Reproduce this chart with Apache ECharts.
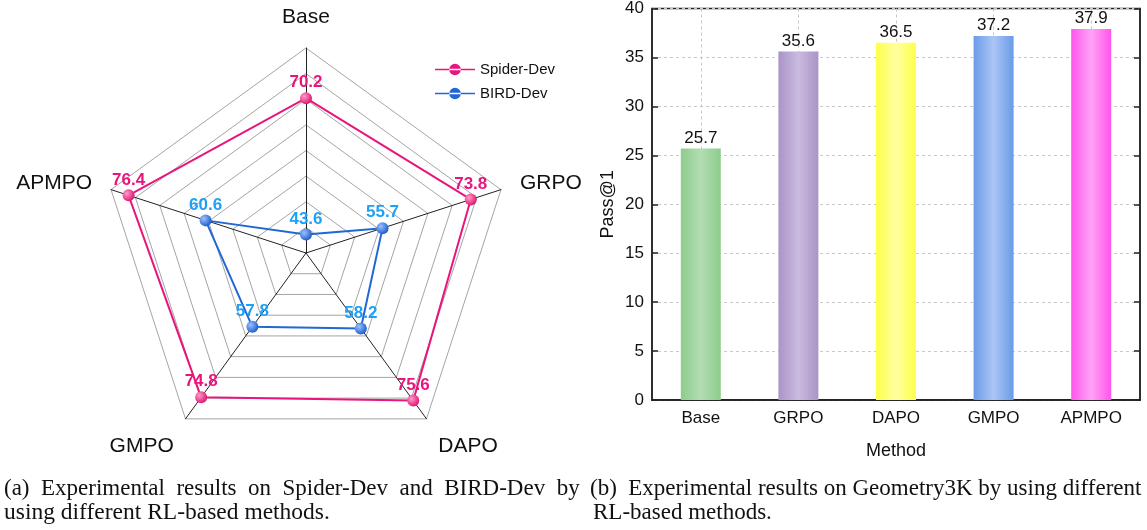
<!DOCTYPE html>
<html><head><meta charset="utf-8">
<script src="https://cdn.jsdelivr.net/npm/echarts@6/dist/echarts.min.js"></script>
<style>html,body{margin:0;padding:0;background:#fff}#c{width:1147px;height:530px}</style>
</head><body><div id="c"></div>
<script>
// ---- data ----
const radarAxes = ['Base', 'GRPO', 'DAPO', 'GMPO', 'APMPO'];   // clockwise from top
const spiderDev = [70.2, 73.8, 75.6, 74.8, 76.4];
const birdDev = [43.6, 55.7, 58.2, 57.8, 60.6];
const radarMin = 40, radarMax = 80;

const barCategories = ['Base', 'GRPO', 'DAPO', 'GMPO', 'APMPO'];
const passAt1 = [25.7, 35.6, 36.5, 37.2, 37.9];
const yTicks = [0, 5, 10, 15, 20, 25, 30, 35, 40];

const barEdge = ['#8ccc8c', '#a994c6', '#ffff4a', '#6a9be8', '#ff55ee'];
const barMid = ['#b3ddb3', '#cabbe0', '#ffffa0', '#abc6f5', '#ffa3f6'];

const sans = 'Liberation Sans, Arial, sans-serif';
const serif = 'Liberation Serif, Times New Roman, serif';

// ECharts lays radar indicators counter-clockwise; reorder so they read clockwise.
const order = [0, 4, 3, 2, 1];
const reorder = arr => order.map(i => arr[i]);
const bottomNames = ['GMPO', 'DAPO'];

function sphere(c, light) {
  return new echarts.graphic.RadialGradient(0.35, 0.35, 0.7, [
    {offset: 0, color: light}, {offset: 1, color: c}
  ]);
}
function barGrad(i) {
  return new echarts.graphic.LinearGradient(0, 0, 1, 0, [
    {offset: 0, color: barEdge[i]}, {offset: 0.5, color: barMid[i]}, {offset: 1, color: barEdge[i]}
  ]);
}
const legendIcon = 'path://M0,5 L40,5 L40,6.6 L0,6.6 Z M20,0 A5.8,5.8 0 1,0 20.01,0 Z';

const chart = echarts.init(document.getElementById('c'), null, {renderer: 'canvas'});
const option = {
  animation: false,
  backgroundColor: '#fff',
  textStyle: {fontFamily: sans},
  legend: {
    left: 430, top: 57, orient: 'vertical', itemGap: 9,
    itemWidth: 40, itemHeight: 12, icon: legendIcon,
    textStyle: {fontSize: 15, color: '#111', fontFamily: sans},
    data: [
      {name: 'Spider-Dev', itemStyle: {color: '#e8157d'}},
      {name: 'BIRD-Dev', itemStyle: {color: '#2168d6'}}
    ]
  },
  radar: {
    center: [306, 253], radius: 205, startAngle: 90, splitNumber: 8,
    shape: 'polygon',
    indicator: reorder(radarAxes).map(n => ({name: n, min: radarMin, max: radarMax})),
    axisName: {
      color: '#111', fontSize: 21, fontFamily: sans,
      formatter: n => bottomNames.includes(n) ? '{low|' + n + '}' : n,
      rich: {low: {fontSize: 21, fontFamily: sans, color: '#111', padding: [22, 0, 0, 0]}}
    },
    nameGap: 20,
    splitLine: {lineStyle: {color: '#9a9a9a', width: 0.9}},
    splitArea: {show: false},
    axisLine: {lineStyle: {color: '#222', width: 1}}
  },
  grid: {left: 652, right: 7, top: 5, bottom: 130, show: true, borderColor: '#222', borderWidth: 1.5},
  xAxis: [{
    type: 'category', data: barCategories, gridIndex: 0,
    name: 'Method', nameLocation: 'middle', nameGap: 42,
    nameTextStyle: {fontSize: 18, color: '#111'},
    axisLine: {lineStyle: {color: '#222', width: 1.5}},
    axisTick: {inside: true, alignWithLabel: true, length: 6, lineStyle: {color: '#222', width: 1.5}},
    axisLabel: {fontSize: 17, color: '#111', margin: 10},
    splitLine: {show: true, alignWithLabel: true, lineStyle: {color: '#c8c8c8', type: [3, 3], width: 1}}
  }, {
    type: 'category', data: barCategories, position: 'top', gridIndex: 0,
    axisLine: {lineStyle: {color: '#222', width: 1.5}},
    axisTick: {inside: true, alignWithLabel: true, length: 6, lineStyle: {color: '#222', width: 1.5}},
    axisLabel: {show: false}
  }],
  yAxis: [{
    type: 'value', min: 0, max: 40, interval: 5,
    name: 'Pass@1', nameLocation: 'middle', nameGap: 35, nameRotate: 90,
    nameTextStyle: {fontSize: 18, color: '#111'},
    axisLine: {show: true, lineStyle: {color: '#222', width: 1.5}},
    axisTick: {show: true, inside: true, length: 6, lineStyle: {color: '#222', width: 1.5}},
    axisLabel: {fontSize: 17, color: '#111', margin: 8, formatter: v => yTicks.includes(v) ? String(v) : ''},
    splitLine: {show: true, lineStyle: {color: '#c8c8c8', type: [3, 3], width: 1}}
  }, {
    type: 'value', min: 0, max: 40, interval: 5, position: 'right',
    axisLine: {show: true, lineStyle: {color: '#222', width: 1.5}},
    axisTick: {show: true, inside: true, length: 6, lineStyle: {color: '#222', width: 1.5}},
    axisLabel: {show: false}, splitLine: {show: false}
  }],
  series: [{
    type: 'radar', name: 'Spider-Dev',
    symbol: 'circle', symbolSize: 12,
    lineStyle: {color: '#e8157d', width: 2},
    itemStyle: {color: sphere('#e0106f', '#ff9cc8')},
    label: {show: true, position: 'top', distance: 1, color: '#e8157d', fontWeight: 'bold', fontSize: 17, fontFamily: sans},
    data: [{value: reorder(spiderDev), name: 'Spider-Dev'}],
    z: 3
  }, {
    type: 'radar', name: 'BIRD-Dev',
    symbol: 'circle', symbolSize: 12,
    lineStyle: {color: '#2168d6', width: 2},
    itemStyle: {color: sphere('#1a5bc8', '#9cc0ff')},
    label: {show: true, position: 'top', distance: 1, color: '#1ea0f5', fontWeight: 'bold', fontSize: 17, fontFamily: sans},
    data: [{value: reorder(birdDev), name: 'BIRD-Dev'}],
    z: 3
  }, {
    type: 'bar', xAxisIndex: 0, yAxisIndex: 0, barWidth: 40,
    data: passAt1.map((v, i) => ({value: v, itemStyle: {color: barGrad(i)}})),
    label: {show: true, position: 'top', distance: 2, fontSize: 17, color: '#111'}
  }],
  graphic: [{
    type: 'text', left: 4, top: 477,
    style: {text: '(a)  Experimental  results  on  Spider-Dev  and  BIRD-Dev  by', font: '23px ' + serif, fill: '#111', lineHeight: 24}
  }, {
    type: 'text', left: 4, top: 501,
    style: {text: 'using different RL-based methods.', font: '23.5px ' + serif, fill: '#111', lineHeight: 24}
  }, {
    type: 'text', left: 590, top: 477,
    style: {text: '(b)  Experimental results on Geometry3K by using different', font: '23px ' + serif, fill: '#111', lineHeight: 24}
  }, {
    type: 'text', left: 593, top: 501,
    style: {text: 'RL-based methods.', font: '23px ' + serif, fill: '#111', lineHeight: 24}
  }]
};
chart.setOption(option);
</script></body></html>
